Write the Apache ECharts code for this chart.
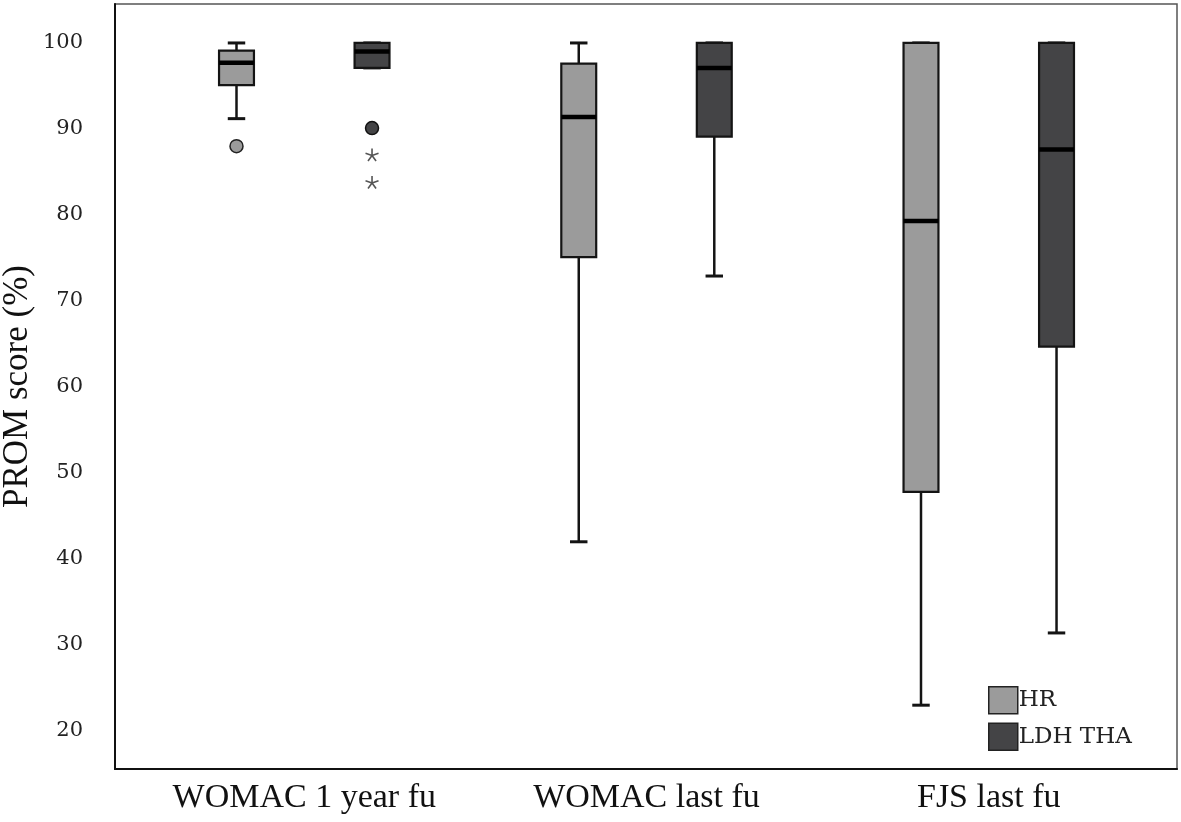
<!DOCTYPE html>
<html>
<head>
<meta charset="utf-8">
<script src="https://cdn.jsdelivr.net/npm/echarts@6/dist/echarts.min.js"></script>
<style>
html,body{margin:0;padding:0;background:#fff;}
#chart{width:1181px;height:822px;}
</style>
</head>
<body>
<div id="chart"></div>
<script>
// ---- data ----
var categories = ['WOMAC 1 year fu', 'WOMAC last fu', 'FJS last fu'];
var seriesNames = ['HR', 'LDH THA'];
var yTicks = [20, 30, 40, 50, 60, 70, 80, 90, 100];

var hrMin    = [91.2, 42.0, 23.0];
var hrQ1     = [95.1, 75.1, 47.8];
var hrMedian = [97.7, 91.4, 79.3];
var hrQ3     = [99.1, 97.6, 100];
var hrMax    = [100, 100, 100];

var ldhMin    = [97.1, 72.9, 31.4];
var ldhQ1     = [97.1, 89.1, 64.7];
var ldhMedian = [99.0, 97.1, 87.6];
var ldhQ3     = [100, 100, 100];
var ldhMax    = [100, 100, 100];

// outliers: [category index, value]
var hrCircleOutliers  = [[0, 88.0]];
var ldhCircleOutliers = [[0, 90.1]];
var ldhStarOutliers   = [[0, 87.0], [0, 83.8]];

// ---- layout/style ----
var GROUP_OFFSET = 0.198;  // in category units
var BOX_W = 0.102;         // in category units
var HR_COLOR = '#9b9b9b';
var LDH_COLOR = '#444446';
var EDGE = '#141414';

function buildBox(mins, q1s, meds, q3s, maxs, side) {
  return categories.map(function (c, i) {
    return [i + 1 + side * GROUP_OFFSET, mins[i], q1s[i], meds[i], q3s[i], maxs[i]];
  });
}
function buildPts(list, side) {
  return list.map(function (p) { return [p[0] + 1 + side * GROUP_OFFSET, p[1]]; });
}

function renderBox(color) {
  return function (params, api) {
    var x = api.value(0);
    var pMin = api.coord([x, api.value(1)]);
    var pQ1 = api.coord([x, api.value(2)]);
    var pMed = api.coord([x, api.value(3)]);
    var pQ3 = api.coord([x, api.value(4)]);
    var pMax = api.coord([x, api.value(5)]);
    var w = api.size([BOX_W, 0])[0];
    var cx = pMed[0];
    var cap = w * 0.5;
    var line = { stroke: EDGE, lineWidth: 2.5 };
    return {
      type: 'group',
      children: [
        { type: 'line', shape: { x1: cx, y1: pMax[1], x2: cx, y2: pQ3[1] }, style: line },
        { type: 'line', shape: { x1: cx, y1: pQ1[1], x2: cx, y2: pMin[1] }, style: line },
        { type: 'line', shape: { x1: cx - cap / 2, y1: pMax[1], x2: cx + cap / 2, y2: pMax[1] }, style: { stroke: EDGE, lineWidth: 3 } },
        { type: 'line', shape: { x1: cx - cap / 2, y1: pMin[1], x2: cx + cap / 2, y2: pMin[1] }, style: { stroke: EDGE, lineWidth: 3 } },
        { type: 'rect', shape: { x: cx - w / 2, y: pQ3[1], width: w, height: Math.max(pQ1[1] - pQ3[1], 0.5) },
          style: { fill: color, stroke: EDGE, lineWidth: 2.2 } },
        { type: 'line', shape: { x1: cx - w / 2, y1: pMed[1], x2: cx + w / 2, y2: pMed[1] }, style: { stroke: '#000', lineWidth: 4.5 } }
      ]
    };
  };
}

var starPath = 'path://M0,0L0,-10M0,0L9.51,-3.09M0,0L5.88,8.09M0,0L-5.88,8.09M0,0L-9.51,-3.09';

var chart = echarts.init(document.getElementById('chart'), null, { renderer: 'canvas' });
chart.setOption({
  animation: false,
  backgroundColor: '#fff',
  grid: { left: 115, right: 4, top: 4, bottom: 53, show: true, borderColor: '#555', borderWidth: 1.5,
          containLabel: false, outerBoundsMode: 'none' },
  legend: {
    data: seriesNames,
    orient: 'vertical',
    left: 983, top: 681,
    itemWidth: 29, itemHeight: 27, itemGap: 8,
    icon: 'rect',
    itemStyle: { borderColor: '#222', borderWidth: 1.5 },
    textStyle: { fontFamily: 'DejaVu Serif', fontSize: 23, color: '#222', padding: [0, 0, 0, -4] }
  },
  xAxis: {
    type: 'value', min: 0.447, max: 3.55,
    splitLine: { show: false },
    axisLine: { show: true, onZero: false, lineStyle: { color: '#111', width: 2 } },
    axisTick: { show: false },
    axisLabel: {
      customValues: [1, 2, 3],
      formatter: function (v) { return categories[Math.round(v) - 1] || ''; },
      fontFamily: 'Liberation Serif', fontSize: 34, color: '#111', margin: 12
    }
  },
  yAxis: {
    type: 'value', min: 15.58, max: 104.53,
    name: 'PROM score (%)', nameLocation: 'middle', nameGap: 80, nameMoveOverlap: false,
    nameTextStyle: { fontFamily: 'Liberation Serif', fontSize: 35, color: '#111' },
    splitLine: { show: false },
    axisLine: { show: true, lineStyle: { color: '#111', width: 2 } },
    axisTick: { show: false },
    axisLabel: {
      customValues: yTicks,
      fontFamily: 'DejaVu Serif', fontSize: 21, color: '#222', margin: 32
    }
  },
  series: [
    { name: 'HR', type: 'custom', itemStyle: { color: HR_COLOR }, renderItem: renderBox(HR_COLOR),
      encode: { x: 0, y: [1, 2, 3, 4, 5] }, data: buildBox(hrMin, hrQ1, hrMedian, hrQ3, hrMax, -1) },
    { name: 'LDH THA', type: 'custom', itemStyle: { color: LDH_COLOR }, renderItem: renderBox(LDH_COLOR),
      encode: { x: 0, y: [1, 2, 3, 4, 5] }, data: buildBox(ldhMin, ldhQ1, ldhMedian, ldhQ3, ldhMax, 1) },
    { name: 'HR outliers', type: 'scatter', symbol: 'circle', symbolSize: 13,
      itemStyle: { color: HR_COLOR, borderColor: '#222', borderWidth: 1.5, opacity: 1 },
      data: buildPts(hrCircleOutliers, -1) },
    { name: 'LDH outliers', type: 'scatter', symbol: 'circle', symbolSize: 13,
      itemStyle: { color: LDH_COLOR, borderColor: '#111', borderWidth: 1.5, opacity: 1 },
      data: buildPts(ldhCircleOutliers, 1) },
    { name: 'LDH extremes', type: 'scatter', symbol: starPath, symbolSize: 13, symbolKeepAspect: true,
      itemStyle: { color: 'none', borderColor: '#555', borderWidth: 1.6, opacity: 1 },
      data: buildPts(ldhStarOutliers, 1) }
  ]
});
</script>
</body>
</html>
